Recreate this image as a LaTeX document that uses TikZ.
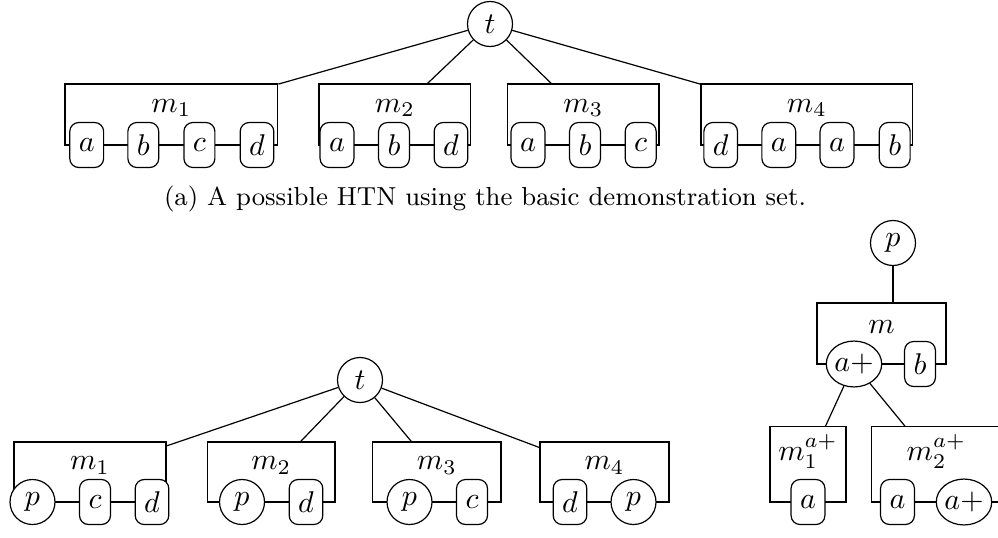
\documentclass[tikz,border=0pt]{standalone}
\usepackage{fontspec}
\usetikzlibrary{shapes.geometric,fit}
\tikzset{
  task/.style={draw, fill=white, rounded corners=3pt, minimum height=15pt, inner xsep=3pt, inner ysep=0pt},
  ctask/.style={draw, fill=white, circle, minimum size=15pt, inner sep=0pt},
  etask/.style={draw, fill=white, ellipse, minimum width=18pt, minimum height=15.3pt, inner sep=0pt},
  mbox/.style={draw, rectangle, inner sep=0pt},
  edge/.style={draw},
}
\begin{document}
\begin{tikzpicture}[x=0.33333pt, y=-0.33333pt]
\useasboundingbox (0,0) rectangle (998,537);
\clip (0,0) rectangle (998,537);
% ---------- top figure ----------
\node[ctask] (T) at (490,24) {$t$};
\node[mbox, fit={(65,84) (277.7,145)}] (TM1) {$m_1$};
\node[mbox, fit={(319,84) (470.7,145)}] (TM2) {$m_2$};
\node[mbox, fit={(507.7,84) (659,145)}] (TM3) {$m_3$};
\node[mbox, fit={(701,84) (912.7,145)}] (TM4) {$m_4$};
\node[task] (t1a) at (86.7,145) {$a$};
\node[task] (t1b) at (143.3,145) {$b$};
\node[task] (t1c) at (199.4,145) {$c$};
\node[task] (t1d) at (257,145) {$d$};
\node[task] (t2a) at (337,145) {$a$};
\node[task] (t2b) at (394,145) {$b$};
\node[task] (t2d) at (451,145) {$d$};
\node[task] (t3a) at (528,145) {$a$};
\node[task] (t3b) at (585,145) {$b$};
\node[task] (t3c) at (640.7,145) {$c$};
\node[task] (t4d) at (720.7,145) {$d$};
\node[task] (t4a) at (778.8,145) {$a$};
\node[task] (t4aa) at (837,145) {$a$};
\node[task] (t4b) at (894.7,145) {$b$};
\draw[edge] (T) -- (TM1);
\draw[edge] (T) -- (TM2);
\draw[edge] (T) -- (TM3);
\draw[edge] (T) -- (TM4);
\node[anchor=base, font=\fontsize{8.68}{10}\selectfont] (cap) at (485,205) {(a) A possible HTN using the basic demonstration set.};
% ---------- bottom left figure ----------
\node[ctask] (B) at (360,380) {$t$};
\node[mbox, fit={(14,442) (166,502)}] (BM1) {$m_1$};
\node[mbox, fit={(207.3,442) (335,502)}] (BM2) {$m_2$};
\node[mbox, fit={(372.7,442) (501,502)}] (BM3) {$m_3$};
\node[mbox, fit={(540,442) (669,502)}] (BM4) {$m_4$};
\node[ctask] (b1p) at (32.5,502) {$p$};
\node[task] (b1c) at (95,502) {$c$};
\node[task] (b1d) at (152,502) {$d$};
\node[ctask] (b2p) at (242,502) {$p$};
\node[task] (b2d) at (306,502) {$d$};
\node[ctask] (b3p) at (409.5,502) {$p$};
\node[task] (b3c) at (472,502) {$c$};
\node[task] (b4d) at (570,502) {$d$};
\node[ctask] (b4p) at (633.5,502) {$p$};
\draw[edge] (B) -- (BM1);
\draw[edge] (B) -- (BM2);
\draw[edge] (B) -- (BM3);
\draw[edge] (B) -- (BM4);
% ---------- right figure ----------
\node[ctask] (P) at (893,243) {$p$};
\node[mbox, fit={(817,303) (946,364)}] (RM) {$m$};
\node[mbox, fit={(770,426.7) (846,502)}] (RM1) {$m_1^{a+}$};
\node[mbox, fit={(871.7,426.7) (1001,502)}] (RM2) {$m_2^{a+}$};
\node[etask] (ra) at (854,364) {$a{+}$};
\node[task] (rb) at (920,364) {$b$};
\node[task] (r1a) at (808,502) {$a$};
\node[task] (r2a) at (897.5,502) {$a$};
\node[etask] (r2ap) at (964,502) {$a{+}$};
\draw[edge] (P) -- (P |- RM.north);
\draw[edge] (ra) -- (RM1);
\draw[edge] (ra) -- (RM2);
\end{tikzpicture}
\end{document}
